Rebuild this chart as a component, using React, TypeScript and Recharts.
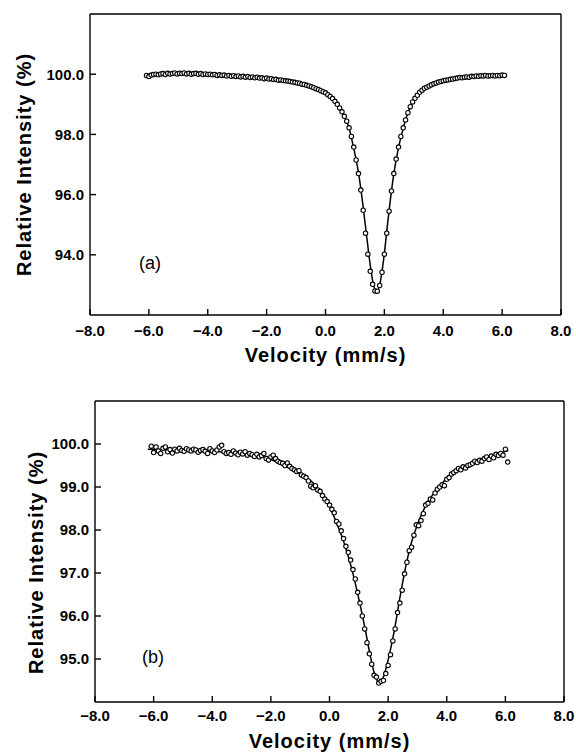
import React from 'react'
import { ComposedChart, Line, Scatter, XAxis, YAxis } from 'recharts'

// ── Data ──────────────────────────────────────────────────────────────────────

// channel velocities (mm/s), shared by both spectra
const VELOCITY = [
  -6.08, -6.00, -5.92, -5.84, -5.76, -5.68, -5.60, -5.52, -5.44, -5.36, -5.28, -5.20, -5.12, -5.04,
  -4.96, -4.88, -4.80, -4.72, -4.64, -4.56, -4.48, -4.40, -4.32, -4.24, -4.16, -4.08, -4.00, -3.92,
  -3.84, -3.76, -3.68, -3.60, -3.52, -3.44, -3.36, -3.28, -3.20, -3.12, -3.04, -2.96, -2.88, -2.80,
  -2.72, -2.64, -2.56, -2.48, -2.40, -2.32, -2.24, -2.16, -2.08, -2.00, -1.92, -1.84, -1.76, -1.68,
  -1.60, -1.52, -1.44, -1.36, -1.28, -1.20, -1.12, -1.04, -0.96, -0.88, -0.80, -0.72, -0.64, -0.56,
  -0.48, -0.40, -0.32, -0.24, -0.16, -0.08, 0.00, 0.08, 0.16, 0.24, 0.32, 0.40, 0.48, 0.56,
  0.64, 0.72, 0.80, 0.88, 0.96, 1.04, 1.12, 1.20, 1.28, 1.36, 1.44, 1.52, 1.60, 1.68,
  1.76, 1.84, 1.92, 2.00, 2.08, 2.16, 2.24, 2.32, 2.40, 2.48, 2.56, 2.64, 2.72, 2.80,
  2.88, 2.96, 3.04, 3.12, 3.20, 3.28, 3.36, 3.44, 3.52, 3.60, 3.68, 3.76, 3.84, 3.92,
  4.00, 4.08, 4.16, 4.24, 4.32, 4.40, 4.48, 4.56, 4.64, 4.72, 4.80, 4.88, 4.96, 5.04,
  5.12, 5.20, 5.28, 5.36, 5.44, 5.52, 5.60, 5.68, 5.76, 5.84, 5.92, 6.00, 6.08,
]

// (a) measured relative intensity (%)
const INTENSITY_A = [
  99.96, 99.92, 99.97, 99.99, 100.00, 99.98, 100.01, 100.02, 99.99, 100.03, 100.01, 100.02, 100.04, 100.01,
  100.03, 100.02, 100.04, 100.01, 100.03, 100.00, 100.02, 100.03, 100.00, 100.02, 99.99, 100.01, 99.99, 100.00,
  99.98, 99.99, 99.96, 99.98, 99.96, 99.97, 99.94, 99.96, 99.93, 99.95, 99.92, 99.94, 99.91, 99.93,
  99.90, 99.92, 99.89, 99.91, 99.88, 99.90, 99.87, 99.88, 99.85, 99.87, 99.84, 99.85, 99.82, 99.83,
  99.80, 99.81, 99.79, 99.78, 99.77, 99.76, 99.74, 99.73, 99.71, 99.70, 99.67, 99.66, 99.63, 99.61,
  99.58, 99.55, 99.52, 99.49, 99.45, 99.42, 99.38, 99.32, 99.26, 99.19, 99.10, 99.00, 98.88, 98.75,
  98.60, 98.44, 98.22, 97.93, 97.58, 97.15, 96.70, 96.15, 95.48, 94.72, 94.02, 93.45, 93.02, 92.80,
  92.79, 92.98, 93.42, 94.02, 94.72, 95.45, 96.12, 96.70, 97.18, 97.58, 97.93, 98.22, 98.48, 98.72,
  98.92, 99.08, 99.20, 99.30, 99.40, 99.47, 99.53, 99.57, 99.61, 99.65, 99.68, 99.71, 99.74, 99.76,
  99.78, 99.80, 99.81, 99.83, 99.84, 99.86, 99.87, 99.89, 99.88, 99.90, 99.91, 99.90, 99.93, 99.92,
  99.94, 99.93, 99.95, 99.94, 99.96, 99.94, 99.95, 99.96, 99.94, 99.96, 99.95, 99.97, 99.96,
]

// (b) measured relative intensity (%)
const INTENSITY_B = [
  99.95, 99.80, 99.93, 99.84, 99.78, 99.90, 99.93, 99.82, 99.87, 99.79, 99.88, 99.84, 99.90, 99.85,
  99.83, 99.89, 99.86, 99.84, 99.88, 99.86, 99.81, 99.85, 99.87, 99.83, 99.78, 99.89, 99.84, 99.80,
  99.86, 99.93, 99.97, 99.82, 99.78, 99.80, 99.76, 99.84, 99.79, 99.75, 99.81, 99.77, 99.82, 99.74,
  99.78, 99.75, 99.71, 99.76, 99.70, 99.73, 99.78, 99.66, 99.63, 99.70, 99.74, 99.66, 99.60, 99.57,
  99.55, 99.50, 99.56, 99.48, 99.43, 99.40, 99.36, 99.38, 99.28, 99.25, 99.22, 99.14, 99.02, 98.98,
  99.03, 98.93, 98.90, 98.80, 98.72, 98.66, 98.58, 98.48, 98.40, 98.20, 98.14, 97.98, 97.80, 97.62,
  97.48, 97.30, 97.08, 96.86, 96.55, 96.30, 96.00, 95.70, 95.38, 95.12, 94.88, 94.62, 94.58, 94.44,
  94.48, 94.50, 94.66, 94.85, 95.10, 95.42, 95.70, 96.08, 96.30, 96.60, 96.98, 97.25, 97.52, 97.60,
  97.88, 98.12, 98.10, 98.22, 98.38, 98.58, 98.62, 98.72, 98.70, 98.86, 98.95, 99.00, 99.05, 99.03,
  99.18, 99.22, 99.30, 99.34, 99.38, 99.43, 99.40, 99.47, 99.44, 99.50, 99.52, 99.55, 99.60, 99.57,
  99.62, 99.60, 99.66, 99.70, 99.64, 99.72, 99.68, 99.76, 99.73, 99.78, 99.74, 99.88, 99.58,
]

// fitted curves
const FIT_A_V = [
  -6.1, -5.0, -4.0, -3.0, -2.0, -1.5, -1.0, -0.5, 0.0, 0.2, 0.4, 0.6, 0.8, 0.9, 1.0, 1.1, 1.2, 1.3, 1.4,
  1.5, 1.6, 1.68, 1.76, 1.84, 1.92, 2.0, 2.1, 2.2, 2.3, 2.4, 2.5, 2.6, 2.7, 2.8, 3.0, 3.2, 3.5, 4.0,
  4.5, 5.0, 5.5, 6.1,
]
const FIT_A_I = [
  99.98, 100.02, 100.0, 99.94, 99.87, 99.81, 99.73, 99.59, 99.38, 99.23, 99.0, 98.67, 98.22, 97.8, 97.35,
  96.85, 96.2, 95.42, 94.6, 93.8, 93.15, 92.85, 92.8, 93.0, 93.45, 94.05, 94.95, 95.8, 96.55, 97.15,
  97.65, 98.05, 98.42, 98.72, 99.15, 99.4, 99.62, 99.78, 99.87, 99.91, 99.94, 99.96,
]
const FIT_B_V = [
  -6.2, -5.0, -4.0, -3.0, -2.5, -2.0, -1.5, -1.0, -0.6, -0.3, 0.0, 0.25, 0.5, 0.75, 1.0, 1.2, 1.4,
  1.55, 1.7, 1.85, 2.0, 2.2, 2.4, 2.6, 2.8, 3.0, 3.25, 3.5, 3.8, 4.1, 4.5, 5.0, 5.5, 6.1,
]
const FIT_B_I = [
  99.88, 99.86, 99.83, 99.77, 99.73, 99.64, 99.48, 99.32, 99.12, 98.88, 98.55, 98.15, 97.7, 97.12,
  96.4, 95.75, 95.05, 94.62, 94.45, 94.6, 94.98, 95.62, 96.42, 97.15, 97.72, 98.13, 98.52, 98.8,
  99.05, 99.27, 99.45, 99.6, 99.72, 99.85,
]

const X_TICKS = [-8, -6, -4, -2, 0, 2, 4, 6, 8]
const Y_TICKS_A = [94, 96, 98, 100]
const Y_TICKS_B = [95, 96, 97, 98, 99, 100]

// ── Styles ────────────────────────────────────────────────────────────────────

const FONT = '"Liberation Sans", Arial, Helvetica, sans-serif'
const tickStyle = { fontSize: 15, fontWeight: 700, fill: '#000', fontFamily: FONT }
const titleStyle: React.CSSProperties = {
  fontSize: 20, fontWeight: 700, fill: '#000', fontFamily: FONT, letterSpacing: 1,
}

const fmtX = (v: number) => (v < 0 ? '\u2212' + Math.abs(v).toFixed(1) : v.toFixed(1))
const fmtY = (v: number) => v.toFixed(1)
const blank = () => ''

const Dot = (p: any) => (
  <circle cx={p.cx} cy={p.cy} r={2.2} fill="#fff" stroke="#000" strokeWidth={1.1} />
)

// ── Panel ─────────────────────────────────────────────────────────────────────

interface PanelProps {
  points: { v: number; i: number }[]
  fit: { v: number; i: number }[]
  yDomain: [number, number]
  yTicks: number[]
  tag: string
  top: number
  height: number
  plotLeft: number
  plotRight: number
  plotTop: number
  xAxisHeight: number
  xTickMargin: number
  xTitleOffset: number
  yTitleX: number
  yTitleDy: number
  tagX: number
  tagY: number
}

function Panel(p: PanelProps) {
  const xTitle = (props: any) => {
    const vb = props.viewBox
    return (
      <text x={vb.x + vb.width / 2} y={vb.y + p.xTitleOffset} textAnchor="middle" style={titleStyle}>
        Velocity (mm/s)
      </text>
    )
  }
  const yTitle = (props: any) => {
    const vb = props.viewBox
    const cy = vb.y + vb.height / 2 + p.yTitleDy
    return (
      <text x={p.yTitleX} y={cy} transform={`rotate(-90 ${p.yTitleX} ${cy})`} textAnchor="middle"
        dominantBaseline="central" style={titleStyle}>
        Relative Intensity (%)
      </text>
    )
  }

  return (
    <div style={{ position: 'absolute', left: 0, top: p.top, width: 576, height: p.height }}>
      <ComposedChart width={576} height={p.height}
        margin={{ top: p.plotTop - 1, right: 576 - p.plotRight - 1, bottom: 0, left: 0 }}>
        <XAxis xAxisId="b" type="number" dataKey="v" domain={[-8, 8]} ticks={X_TICKS}
          orientation="bottom" height={p.xAxisHeight} tickSize={-6} tickMargin={p.xTickMargin}
          tickFormatter={fmtX} tick={tickStyle} stroke="#000" strokeWidth={1.4}
          label={{ content: xTitle }} />
        <XAxis xAxisId="t" type="number" dataKey="v" domain={[-8, 8]} ticks={X_TICKS}
          orientation="top" height={1} tickSize={-6} tickFormatter={blank} stroke="#000" strokeWidth={1.4} />
        <YAxis yAxisId="l" type="number" dataKey="i" domain={p.yDomain} ticks={p.yTicks}
          width={p.plotLeft} tickSize={-6} tickMargin={12} tickFormatter={fmtY} tick={tickStyle}
          stroke="#000" strokeWidth={1.4} label={{ content: yTitle }} />
        <YAxis yAxisId="r" type="number" orientation="right" domain={p.yDomain} ticks={p.yTicks}
          width={1} tickSize={-6} tickFormatter={blank} stroke="#000" strokeWidth={1.4} />
        <Scatter xAxisId="b" yAxisId="l" data={p.points} dataKey="i" shape={Dot}
          isAnimationActive={false} />
        <Line xAxisId="b" yAxisId="l" data={p.fit} dataKey="i" type="monotone" stroke="#000"
          strokeWidth={1.5} dot={false} activeDot={false} isAnimationActive={false} />
      </ComposedChart>
      <div style={{
        position: 'absolute', left: p.tagX, top: p.tagY, fontFamily: FONT, fontSize: 18,
        lineHeight: '18px', color: '#000',
      }}>
        {p.tag}
      </div>
    </div>
  )
}

// ── App ───────────────────────────────────────────────────────────────────────

export default function App() {
  const ptsA = VELOCITY.map((v, k) => ({ v, i: INTENSITY_A[k] }))
  const ptsB = VELOCITY.map((v, k) => ({ v, i: INTENSITY_B[k] }))
  const fitA = FIT_A_V.map((v, k) => ({ v, i: FIT_A_I[k] }))
  const fitB = FIT_B_V.map((v, k) => ({ v, i: FIT_B_I[k] }))

  return (
    <div style={{ position: 'absolute', left: 0, top: 0, width: 576, height: 753, background: '#fff' }}>
      <Panel points={ptsA} fit={fitA} yDomain={[92, 102]} yTicks={Y_TICKS_A} tag="(a)"
        top={0} height={380} plotLeft={90} plotRight={561} plotTop={14}
        xAxisHeight={65} xTickMargin={16} xTitleOffset={47} yTitleX={24} yTitleDy={0}
        tagX={139} tagY={254} />
      <Panel points={ptsB} fit={fitB} yDomain={[94, 101]} yTicks={Y_TICKS_B} tag="(b)"
        top={380} height={373} plotLeft={95} plotRight={564} plotTop={21}
        xAxisHeight={51} xTickMargin={14} xTitleOffset={46} yTitleX={36} yTitleDy={11}
        tagX={142} tagY={268} />
    </div>
  )
}
